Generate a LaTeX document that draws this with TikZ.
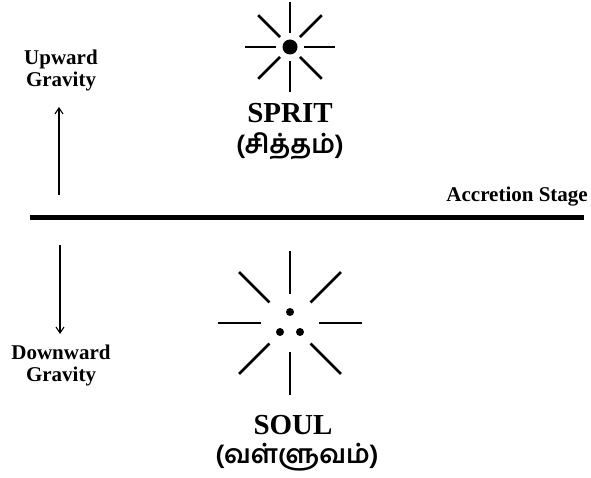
\documentclass[tikz,border=0pt]{standalone}
\usepackage{fontspec}
\setmainfont{Liberation Serif}
\newfontfamily\tamilfont[Script=Tamil]{Hind Madurai}
\usetikzlibrary{arrows.meta}

\begin{document}
\begin{tikzpicture}[x=1pt,y=-1pt,
    ray/.style={line width=2.5pt},
    pull/.style={-{Straight Barb[length=6pt,width=8pt]}, line width=1.1pt},
    side/.style={font=\fontsize{21}{22}\selectfont\bfseries, align=center, inner sep=0pt},
    title/.style={font=\fontsize{29}{31}\selectfont\bfseries, inner sep=0pt},
    tamil/.style={font=\fontsize{26}{28}\selectfont\tamilfont\bfseries, inner sep=0pt}]
    \useasboundingbox (0,0) rectangle (591,478);
    % spirit above the line
    \coordinate (spirit) at (290,47);
    \foreach \a in {0,45,...,315}
        \draw[ray] (spirit) ++(\a:14) -- ++(\a:31);
    \fill (spirit) circle (7.5);
    \node[title] (spiritname) at (290,113) {SPRIT};
    \node[tamil] (spirittamil) at (290,146) {(சித்தம்)};
    % accretion stage
    \coordinate (stagel) at (30,218);
    \coordinate (stager) at (584,218);
    \draw[line width=5pt] (stagel) -- (stager);
    \node[side, anchor=east] (stage) at (588,197) {Accretion Stage};
    % gravity arrows
    \node[side] (upward) at (61,70) {Upward\\Gravity};
    \coordinate (upfoot) at (59,195);
    \coordinate (uphead) at (59,107);
    \draw[pull] (upfoot) -- (uphead);
    \coordinate (downfoot) at (60,245);
    \coordinate (downhead) at (60,334);
    \draw[pull] (downfoot) -- (downhead);
    \node[side] (downward) at (61,365) {Downward\\Gravity};
    % soul below the line
    \coordinate (soul) at (290,323);
    \foreach \a in {0,45,...,315}
        \draw[ray] (soul) ++(\a:29) -- ++(\a:43);
    \fill (290,312) circle (4) (280,332) circle (4) (300,332) circle (4);
    \node[title] (soulname) at (293,425) {SOUL};
    \node[tamil] (soultamil) at (297,457) {(வள்ளுவம்)};
\end{tikzpicture}
\end{document}
